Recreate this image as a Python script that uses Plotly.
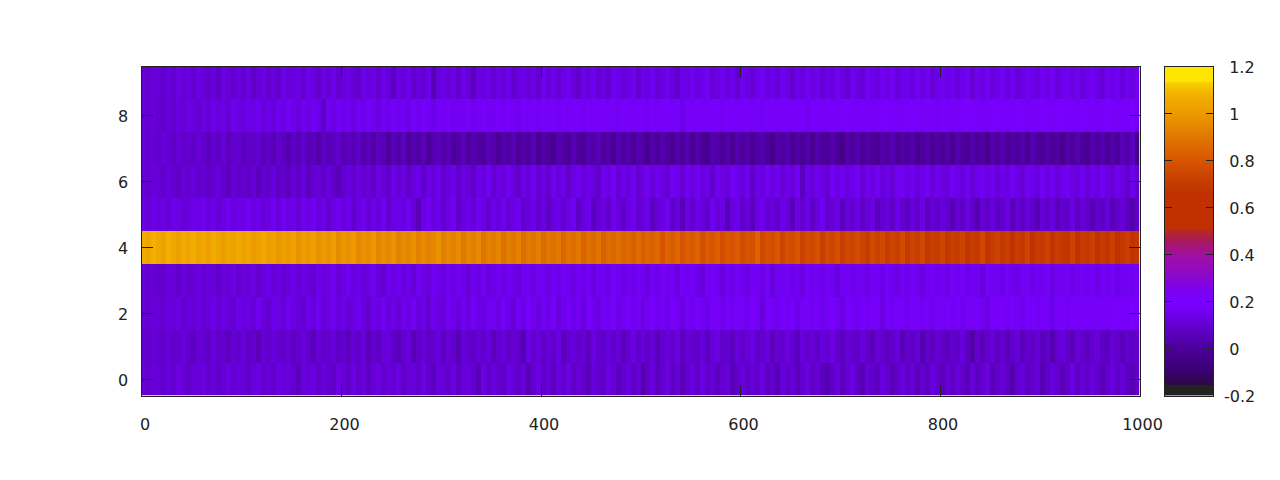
import plotly.graph_objects as go

# values in hundredths, one per 5 x-units
row_0 = [11,10,12,11,9,12,10,13,11,9,12,11,13,10,12,9,11,13,10,12,11,9,12,13,10,11,9,13,11,12,10,7,12,11,13,9,12,10,8,13,
         11,9,13,10,12,8,11,13,9,12,10,13,8,11,12,9,13,10,7,12,11,9,13,8,11,12,10,6,13,9,12,10,8,13,11,9,12,5,10,13,
         9,11,7,12,10,13,8,11,9,6,12,10,8,13,11,7,10,12,8,11,3,9,12,7,10,13,8,11,6,10,12,8,13,9,11,7,10,12,6,9,
         12,8,11,9,13,7,10,4,12,8,11,6,10,13,8,11,7,4,9,12,7,10,13,8,5,11,9,7,12,10,6,9,12,8,11,5,10,7,12,9,
         6,11,8,12,9,5,11,7,10,13,6,9,11,8,4,10,12,7,9,11,5,8,12,10,6,9,13,7,11,8,12,9,6,10,12,8,11,7,5,10]
row_1 = [10,9,11,10,8,11,9,10,12,9,7,11,10,8,12,9,10,7,11,9,12,8,10,6,11,9,12,10,8,11,7,10,12,9,6,11,9,10,12,8,
         10,7,11,9,12,6,10,8,11,12,9,7,10,12,5,9,11,8,10,12,7,11,9,5,12,10,8,11,9,12,6,10,12,8,11,9,4,13,10,12,
         8,11,9,13,6,10,12,9,11,7,13,10,8,12,9,11,6,10,13,9,12,8,11,5,10,12,9,13,7,11,10,8,12,6,11,13,9,10,7,12,
         9,11,13,8,10,12,6,11,9,13,10,7,12,9,11,8,12,10,13,9,7,11,10,8,12,9,6,11,10,7,9,12,5,10,8,11,4,9,7,11,
         9,6,10,8,12,7,3,10,6,9,11,7,10,5,9,12,6,10,8,11,7,9,4,10,12,8,6,11,9,7,10,12,8,6,11,9,7,10,8,9]
row_2 = [11,10,12,11,10,12,11,13,10,12,11,13,10,12,14,11,13,12,10,14,12,13,11,15,12,10,14,13,11,15,13,12,10,14,12,15,11,13,15,12,
         14,11,13,15,12,10,14,13,16,12,14,11,15,13,16,12,14,10,15,13,11,16,14,12,15,13,17,14,12,16,15,13,17,14,11,16,14,18,15,13,
         16,14,18,12,15,17,14,16,12,18,15,13,17,15,18,14,16,18,15,17,13,16,18,15,17,14,18,16,13,17,15,18,16,14,18,17,15,18,16,18,
         17,15,18,16,12,18,17,15,18,16,18,14,17,18,16,18,15,17,18,16,13,18,17,15,18,16,18,17,13,18,16,18,17,15,18,17,16,18,15,18,
         17,18,16,18,15,18,17,18,16,13,18,17,18,16,18,17,15,18,18,16,18,17,14,18,18,16,18,17,18,18,17,18,18,17,18,19,18,17,19,18]
row_3 = [11,10,11,9,10,12,11,9,12,10,11,13,10,12,11,9,12,11,13,10,12,11,13,10,12,14,11,13,10,12,14,11,13,12,10,14,12,13,15,11,
         13,15,12,14,11,13,15,12,10,14,13,15,12,14,11,15,13,12,16,14,12,15,13,16,14,11,15,13,16,12,14,15,13,16,14,12,16,15,13,16,
         15,13,16,14,17,15,13,16,14,17,12,15,16,14,17,15,13,16,14,17,15,12,16,14,17,15,16,13,17,15,16,14,12,16,17,15,13,16,14,17,
         15,13,17,16,14,17,12,16,15,17,14,16,13,17,15,16,14,17,15,12,16,17,14,16,15,13,17,16,14,17,15,13,16,14,17,15,13,16,17,14,
         16,13,17,15,17,14,16,15,12,17,15,16,14,17,15,13,16,17,14,16,15,17,13,16,15,17,14,16,17,15,17,13,16,15,17,14,16,17,15,16]
row_4 = [106,104,108,105,103,107,105,102,106,104,107,103,105,102,106,104,101,105,103,106,102,104,100,103,105,101,103,99,102,100,103,98,101,99,102,97,100,98,101,96,
         99,97,100,95,98,96,99,94,97,95,98,93,96,94,97,92,96,93,95,98,92,95,93,96,90,94,92,95,89,93,91,94,88,92,90,93,87,91,89,92,
         86,90,88,91,85,89,87,90,84,88,86,89,83,87,85,88,84,86,83,87,82,85,83,86,80,84,82,85,79,83,81,84,78,82,80,83,77,81,79,82,
         76,80,78,84,75,79,77,81,74,78,76,80,73,77,75,79,72,76,74,78,71,75,73,77,74,70,76,72,75,70,74,72,76,69,73,71,75,68,72,70,
         74,68,72,70,74,67,71,69,75,67,70,73,68,72,66,71,69,74,66,70,68,73,66,71,69,67,73,66,70,68,72,66,70,67,72,66,69,71,66,68]
row_5 = [13,11,14,12,13,11,14,13,11,12,14,13,15,12,14,11,13,15,12,14,13,16,12,14,11,13,15,12,16,13,14,11,15,13,16,12,14,10,13,15,
         12,14,9,13,15,11,14,12,15,10,13,14,12,15,11,6,13,15,12,14,10,13,15,9,12,14,11,15,13,10,14,12,15,11,13,15,9,12,14,10,
         13,8,12,14,10,13,15,8,12,14,7,11,13,9,15,12,8,13,15,10,12,14,7,11,13,15,9,12,6,13,10,14,12,8,15,11,13,5,12,14,
         9,12,7,13,15,10,12,8,14,11,6,13,10,14,8,12,15,9,11,13,7,12,10,14,8,11,13,6,10,12,8,14,10,7,12,9,13,6,11,8,
         12,10,5,11,8,13,9,4,11,8,12,7,10,13,6,11,8,12,9,5,11,8,12,6,10,8,13,7,11,9,5,10,8,12,6,9,11,7,4,9]
row_6 = [11,10,12,11,9,12,10,8,11,10,12,9,11,8,10,12,9,7,11,9,10,8,11,7,10,9,12,8,10,7,11,9,12,7,10,11,8,12,9,6,
         10,12,9,13,10,11,8,13,11,9,14,11,13,9,12,14,8,13,11,14,9,12,14,10,13,11,8,14,12,15,10,13,11,15,12,9,14,12,15,11,
         13,10,15,12,14,9,13,15,11,14,12,9,15,13,16,11,14,12,15,10,13,16,12,15,13,10,16,14,11,15,13,16,12,14,9,15,13,11,16,14,
         12,15,9,14,12,16,13,15,11,14,12,16,7,14,12,15,13,10,16,13,15,12,14,16,11,15,13,16,12,14,11,15,16,13,15,11,14,16,12,15,
         13,11,16,14,12,15,11,14,16,13,15,11,14,12,16,13,11,15,14,12,16,13,15,11,14,16,13,12,15,11,14,12,16,13,11,15,13,9,14,10]
row_7 = [11,10,11,9,12,10,8,11,9,10,8,11,9,7,10,8,11,7,9,10,6,9,8,10,6,8,5,9,7,4,8,6,9,5,7,3,8,5,7,9,
         4,7,5,8,3,6,2,7,5,1,6,3,7,1,4,2,6,0,4,6,2,5,0,3,6,1,4,2,0,5,3,-1,4,2,5,0,3,1,5,-1,
         3,1,-2,4,2,0,5,1,-1,4,2,5,0,3,-2,4,1,3,-1,4,2,-3,3,0,4,1,-2,3,1,4,-1,3,0,-3,4,2,0,3,-2,4,
         1,3,-1,2,4,0,-3,3,1,4,-1,2,0,3,-2,4,1,-1,3,0,-4,3,1,4,-1,2,0,-2,3,1,4,-1,2,0,3,-3,1,3,-1,2,
         0,3,-2,4,1,-1,3,0,2,-4,3,1,4,-1,2,0,3,-2,4,1,-1,3,0,2,-3,3,1,4,0,-2,3,1,4,-1,3,0,5,2,7,-4]
row_8 = [11,10,12,10,9,11,10,12,11,13,12,10,13,11,14,12,13,11,15,13,12,14,13,15,12,14,11,15,13,16,14,12,15,13,16,14,8,15,13,16,
         14,15,13,16,14,17,15,13,16,14,17,15,16,14,17,15,18,16,14,17,16,18,15,17,16,18,15,17,18,16,17,18,16,18,17,15,18,17,18,16,
         18,17,18,16,18,17,18,18,16,18,17,18,18,17,18,16,18,18,17,18,18,16,18,17,18,18,17,18,14,18,17,18,18,17,18,18,16,18,18,17,
         18,18,17,18,16,18,18,17,18,18,17,18,18,15,18,18,17,18,18,17,18,19,18,17,18,18,17,18,18,19,18,17,18,18,19,18,17,18,18,17,
         19,18,18,17,18,19,18,18,17,18,19,18,18,17,18,19,18,17,18,18,19,18,17,18,19,18,18,17,19,18,18,17,18,19,18,17,18,18,19,15]
row_9 = [11,10,12,11,9,12,10,13,11,12,9,13,11,10,12,8,13,11,9,12,10,13,8,11,13,10,12,9,14,11,12,13,10,14,12,9,13,11,14,10,
         12,13,11,9,14,12,13,10,14,12,7,13,11,14,9,12,10,14,5,12,14,11,13,9,14,11,7,13,12,14,10,13,11,14,9,12,14,11,13,10,
         15,12,14,11,13,15,12,9,14,12,15,11,13,10,15,14,12,13,15,10,14,12,15,11,13,15,12,9,14,13,15,12,14,16,11,13,15,12,14,10,
         15,13,11,14,16,12,14,11,15,13,10,14,12,16,13,15,11,14,12,16,13,10,15,13,11,16,14,12,15,13,16,11,14,15,12,16,13,15,11,14,
         16,13,15,12,14,16,11,15,13,16,12,14,16,12,15,11,13,16,14,12,15,13,16,11,14,16,13,15,12,14,16,13,11,15,14,16,12,15,13,16]

row_grid = [row_0, row_1, row_2, row_3, row_4, row_5, row_6, row_7, row_8, row_9]
rows = [[v / 100 for v in r] for r in row_grid]
row_labels = [0, 1, 2, 3, 4, 5, 6, 7, 8, 9]

x_ticks = [0, 200, 400, 600, 800, 1000]
y_ticks = [0, 2, 4, 6, 8]
bar_ticks = [0.0, 0.2, 0.4, 0.6, 0.8, 1.0, 1.2]
bar_tick_text = ["0", "0.2", "0.4", "0.6", "0.8", "1", "1.2"]

palette_stops = [-0.2, -0.159, -0.156, -0.1, 0.0, 0.1, 0.15, 0.2, 0.25, 0.3, 0.4, 0.46, 0.50, 0.505, 0.65, 0.72,
                 0.8, 0.9, 1.0, 1.05, 1.08, 1.13, 1.135, 1.2]
palette_colors = ["#222222", "#222222", "#2c0a40", "#3a0070", "#4c009a", "#6300d0", "#7000f0", "#7a00ff", "#7c00f0", "#8a08d0",
                  "#a010a0", "#a81a58", "#b82828", "#c03000", "#c03000", "#c84000", "#d85500", "#e07800",
                  "#ec9a00", "#f0a800", "#f2b000", "#f8d000", "#ffe600", "#ffe600"]

Z_MIN, Z_MAX = -0.2, 1.2
colorscale = [[(s - Z_MIN) / (Z_MAX - Z_MIN), c] for s, c in zip(palette_stops, palette_colors)]
ramp_levels = [-0.2 + i * 0.005 for i in range(281)]

W, H = 1272, 472   # the page body adds an 8px offset
def fx(px):
    return (px - 8) / W
def fy(py):
    return 1 - (py - 8) / H

INK = "#222222"
FONT = dict(family="DejaVu Sans", size=16, color=INK)

fig = go.Figure()
fig.add_trace(go.Heatmap(z=rows, x0=2, dx=5, y=row_labels, zmin=Z_MIN, zmax=Z_MAX,
                         colorscale=colorscale, showscale=False))
fig.add_trace(go.Heatmap(z=[[v] for v in ramp_levels], x=[0], y=ramp_levels, zmin=Z_MIN, zmax=Z_MAX,
                         colorscale=colorscale, showscale=False, xaxis="x2", yaxis="y2"))

common = dict(showline=True, linecolor=INK, linewidth=1, showgrid=False, zeroline=False, automargin=False)
fig.update_layout(
    width=W, height=H, autosize=False,
    margin=dict(l=0, r=0, t=0, b=0),
    paper_bgcolor="white", plot_bgcolor="white",
    font=FONT, showlegend=False,
    xaxis=dict(domain=[fx(141.5), fx(1139.5)], range=[-0.5, 1000], tickvals=x_ticks,
               ticks="inside", ticklen=11, tickwidth=1, tickcolor=INK, mirror="allticks",
               ticklabelshift=3, ticklabelstandoff=14, anchor="y", **common),
    yaxis=dict(domain=[fy(395.5), fy(66.5)], range=[-0.5, 9.5], tickvals=y_ticks,
               ticks="inside", ticklen=11, tickwidth=1, tickcolor=INK, mirror="allticks",
               ticklabelstandoff=9, ticklabelshift=1, anchor="x", **common),
    xaxis2=dict(domain=[fx(1164.5), fx(1213)], range=[-0.5, 0.5], showticklabels=False, ticks="",
                mirror=True, anchor="y2", **common),
    yaxis2=dict(domain=[fy(395.5), fy(66.5)], range=[-0.2, 1.2], side="right", tickvals=bar_ticks,
                ticktext=bar_tick_text, ticks="inside", ticklen=7, tickwidth=1, tickcolor=INK, mirror="allticks",
                ticklabelstandoff=12, ticklabelshift=1, anchor="x2", **common),
    annotations=[dict(text="-0.2", x=fx(1257), xref="paper", xanchor="right", y=-0.2, yref="y2",
                      yanchor="middle", yshift=-1, showarrow=False, font=FONT)],
)

fig.write_html("out.html")
